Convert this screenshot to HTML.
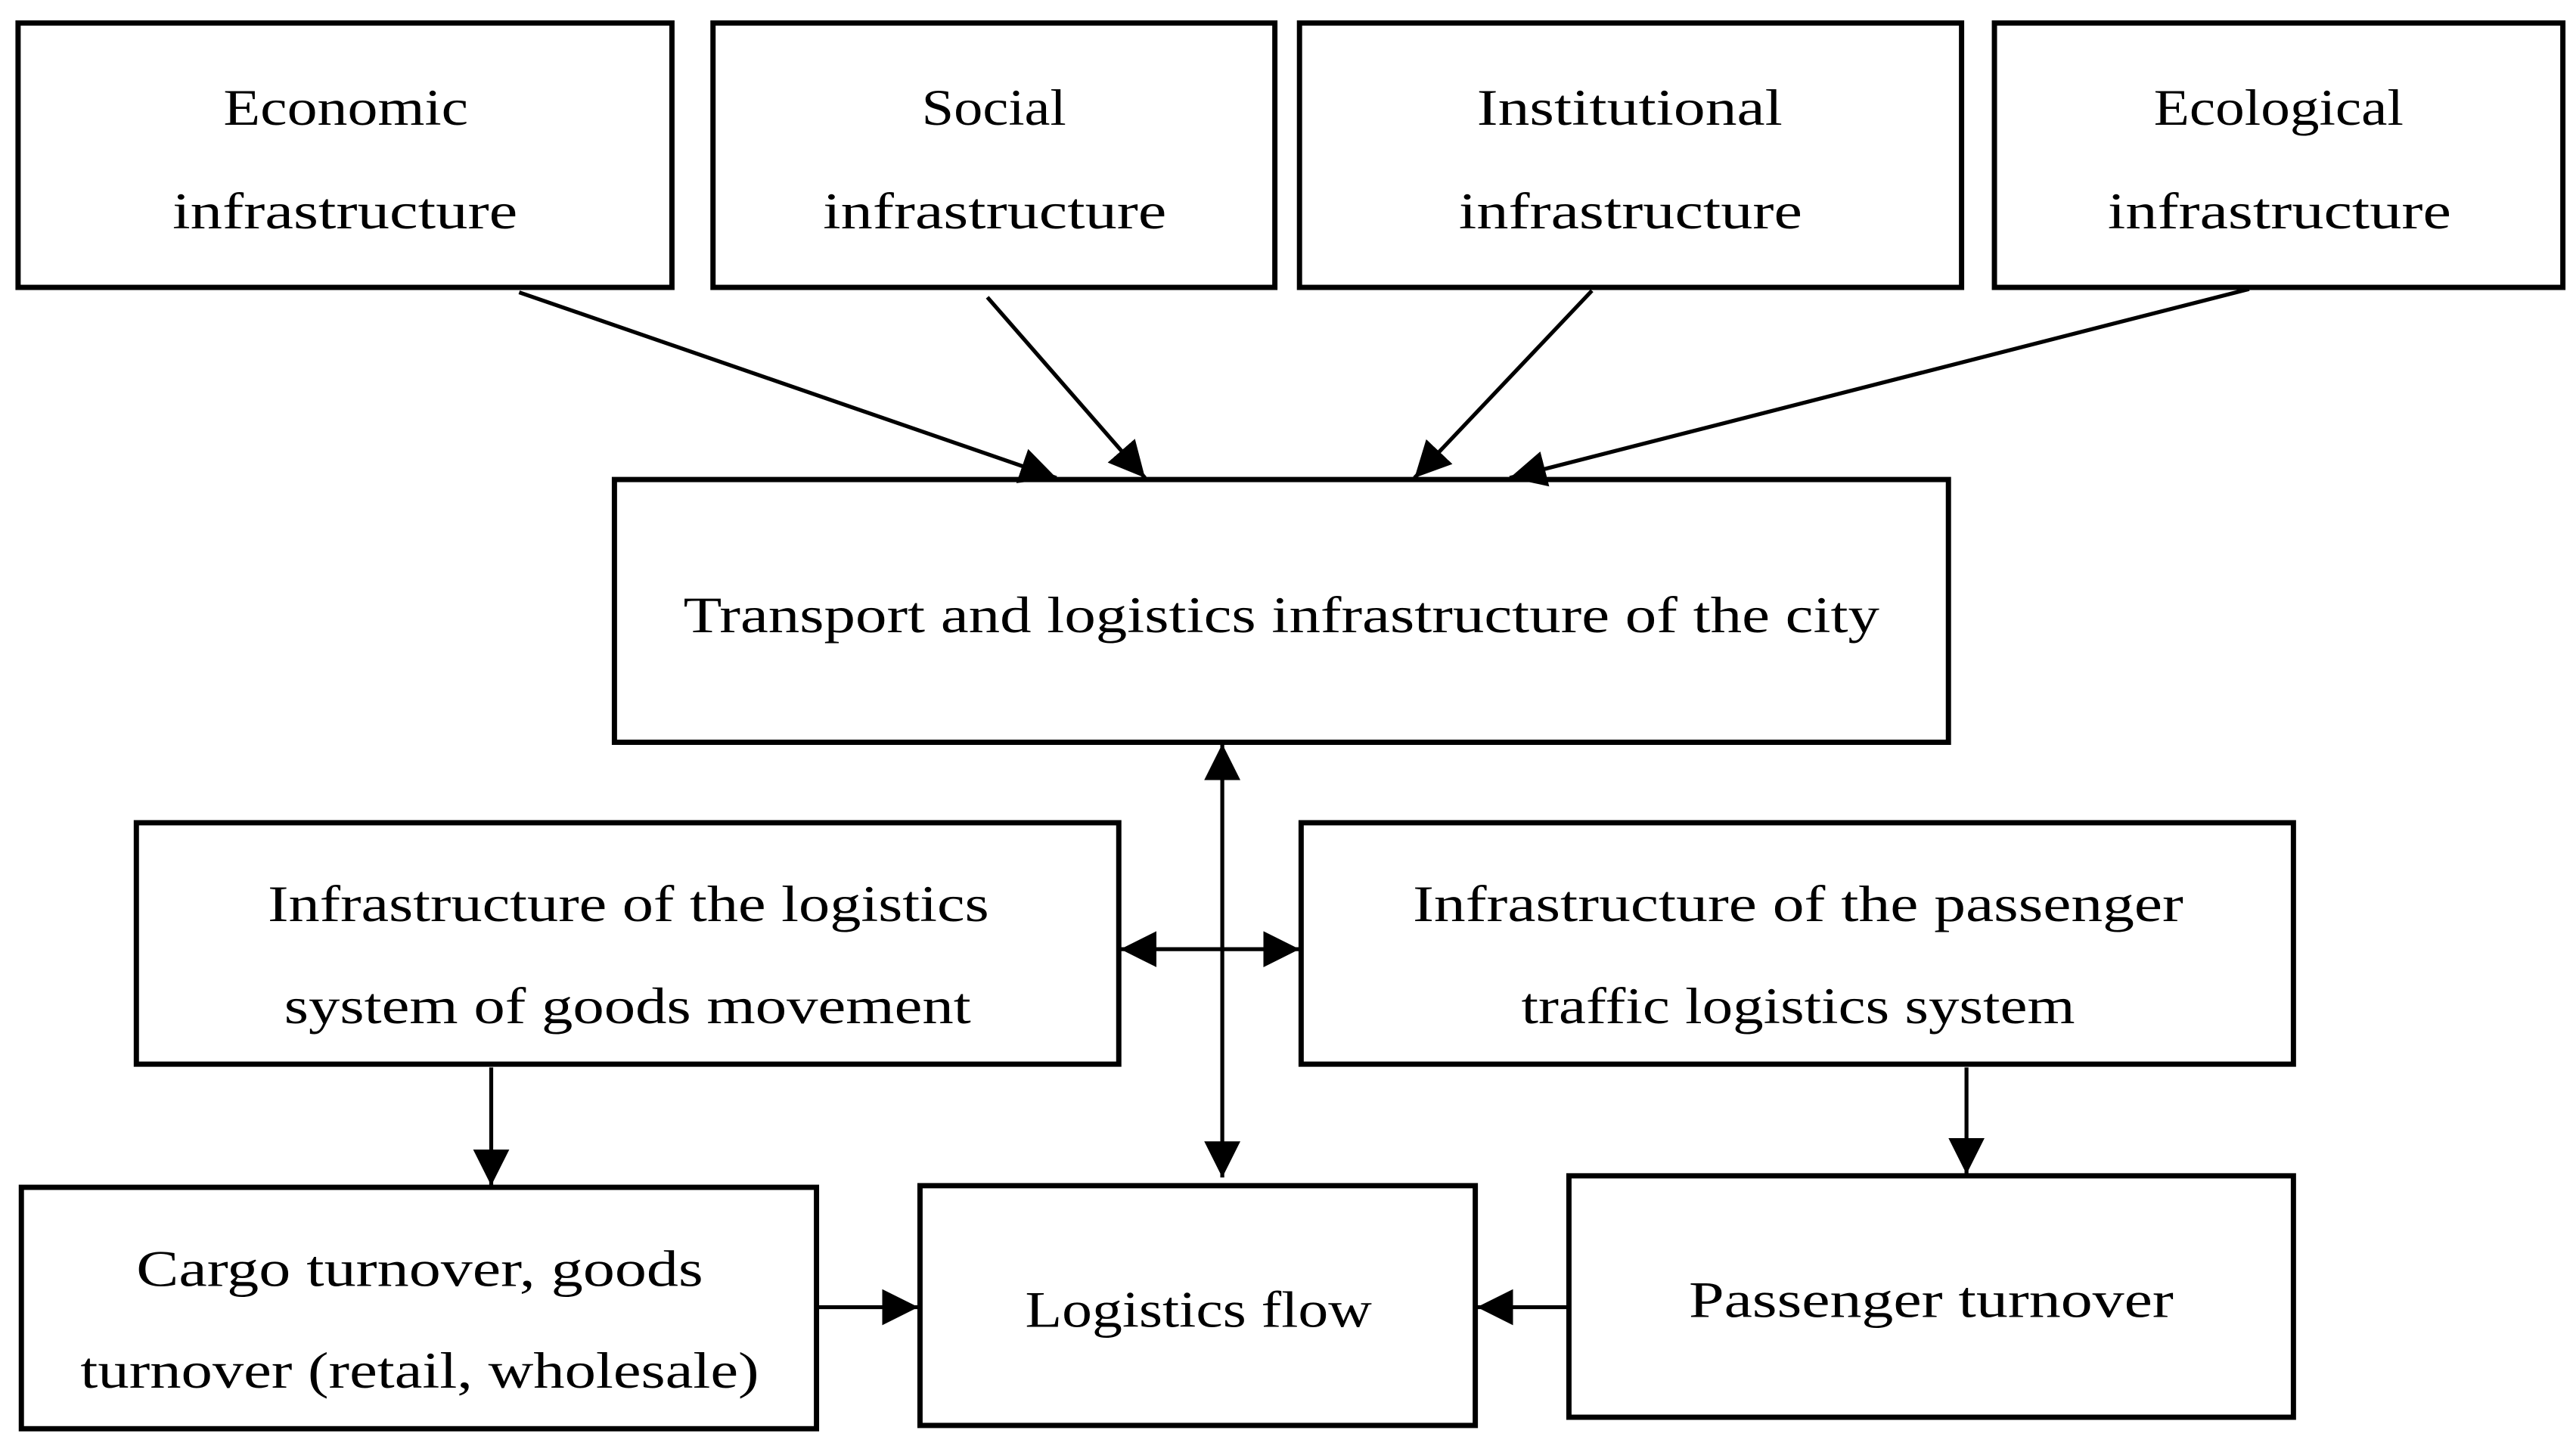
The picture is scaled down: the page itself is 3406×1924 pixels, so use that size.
<!DOCTYPE html>
<html><head><meta charset="utf-8"><style>
html,body{margin:0;padding:0;background:#fff;}
svg{display:block;}
text{font-family:"Liberation Serif",serif;font-size:31px;fill:#000;}
</style></head><body>
<svg width="3406" height="1924" viewBox="0 0 1568 886" preserveAspectRatio="none" xmlns="http://www.w3.org/2000/svg">
<defs>
<marker id="a" markerUnits="userSpaceOnUse" markerWidth="24" markerHeight="24" refX="22" refY="11" orient="auto-start-reverse">
<path d="M0,0 L22,11 L0,22 Z" fill="#000"/>
</marker>
</defs>
<g fill="none" stroke="#000" stroke-width="3.2">
<rect x="11" y="14" width="398" height="161"/>
<rect x="434" y="14" width="342" height="161"/>
<rect x="791" y="14" width="403" height="161"/>
<rect x="1214" y="14" width="346" height="161"/>
<rect x="374" y="292" width="812" height="160"/>
<rect x="83" y="501" width="598" height="147"/>
<rect x="792" y="501" width="604" height="147"/>
<rect x="13" y="723" width="484" height="147"/>
<rect x="560" y="722" width="338" height="146"/>
<rect x="955" y="716" width="441" height="147"/>
</g>
<g stroke="#000" stroke-width="2.4" fill="none">
<line x1="316" y1="178" x2="643" y2="291" marker-end="url(#a)"/>
<line x1="601" y1="181" x2="697" y2="291" marker-end="url(#a)"/>
<line x1="969" y1="177" x2="861" y2="291" marker-end="url(#a)"/>
<line x1="1369" y1="176" x2="919" y2="291" marker-end="url(#a)"/>
<line x1="744" y1="453" x2="744" y2="717" marker-start="url(#a)" marker-end="url(#a)"/>
<line x1="682" y1="578" x2="791" y2="578" marker-start="url(#a)" marker-end="url(#a)"/>
<line x1="299" y1="650" x2="299" y2="722" marker-end="url(#a)"/>
<line x1="1197" y1="650" x2="1197" y2="715" marker-end="url(#a)"/>
<line x1="498" y1="796" x2="559" y2="796" marker-end="url(#a)"/>
<line x1="955" y1="796" x2="899" y2="796" marker-end="url(#a)"/>
</g>
<g>
<text x="136" y="76" textLength="149" lengthAdjust="spacingAndGlyphs">Economic</text>
<text x="105" y="139" textLength="210" lengthAdjust="spacingAndGlyphs">infrastructure</text>
<text x="561" y="76" textLength="88" lengthAdjust="spacingAndGlyphs">Social</text>
<text x="501" y="139" textLength="209" lengthAdjust="spacingAndGlyphs">infrastructure</text>
<text x="899" y="76" textLength="186" lengthAdjust="spacingAndGlyphs">Institutional</text>
<text x="888" y="139" textLength="209" lengthAdjust="spacingAndGlyphs">infrastructure</text>
<text x="1311" y="76" textLength="152" lengthAdjust="spacingAndGlyphs">Ecological</text>
<text x="1283" y="139" textLength="209" lengthAdjust="spacingAndGlyphs">infrastructure</text>
<text x="416" y="385" textLength="728" lengthAdjust="spacingAndGlyphs">Transport and logistics infrastructure of the city</text>
<text x="163" y="561" textLength="439" lengthAdjust="spacingAndGlyphs">Infrastructure of the logistics</text>
<text x="173" y="623" textLength="418" lengthAdjust="spacingAndGlyphs">system of goods movement</text>
<text x="860" y="561" textLength="469" lengthAdjust="spacingAndGlyphs">Infrastructure of the passenger</text>
<text x="926" y="623" textLength="337" lengthAdjust="spacingAndGlyphs">traffic logistics system</text>
<text x="83" y="783" textLength="345" lengthAdjust="spacingAndGlyphs">Cargo turnover, goods</text>
<text x="49" y="845" textLength="413" lengthAdjust="spacingAndGlyphs">turnover (retail, wholesale)</text>
<text x="624" y="808" textLength="211" lengthAdjust="spacingAndGlyphs">Logistics flow</text>
<text x="1028" y="802" textLength="295" lengthAdjust="spacingAndGlyphs">Passenger turnover</text>
</g>
</svg>
</body></html>
